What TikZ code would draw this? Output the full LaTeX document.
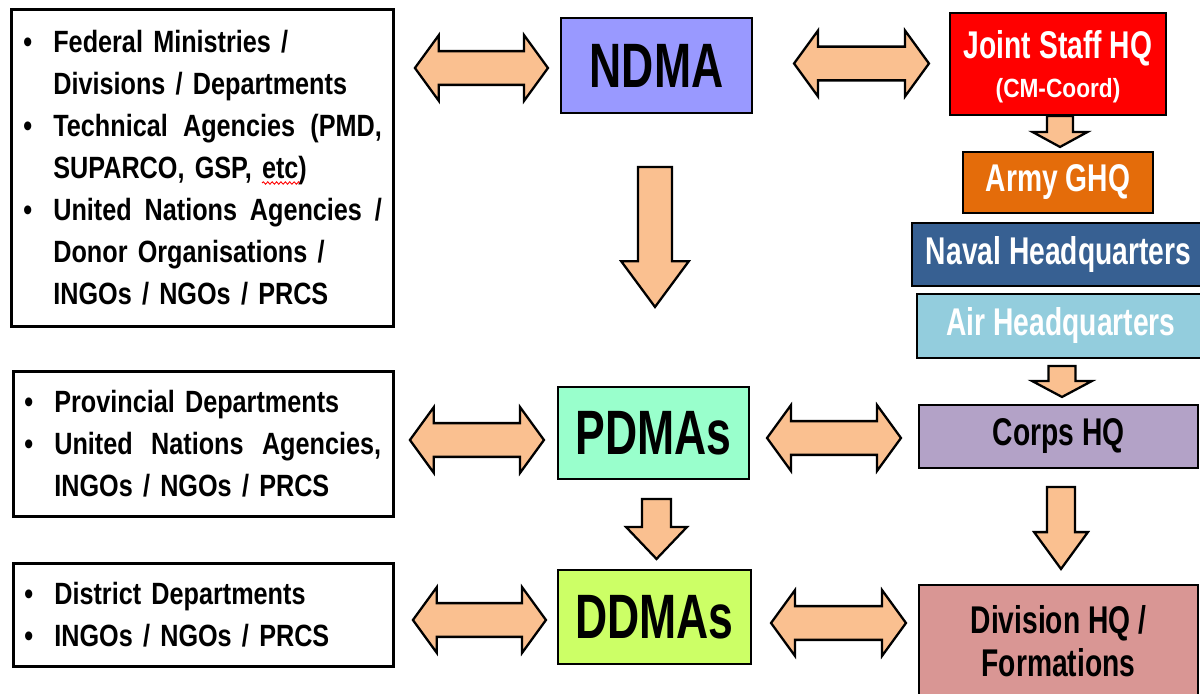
\documentclass[tikz,border=0pt]{standalone}
\usepackage{fontspec}
\setmainfont{Liberation Sans}
\newfontfamily\lfont{Liberation Sans}[FakeStretch=0.82]
\newfontfamily\rfont{Liberation Sans}[FakeStretch=0.73]
\newfontfamily\tfont{Liberation Sans}[FakeStretch=0.71]
\newfontfamily\cfont{Liberation Sans}[FakeStretch=0.86]
\usetikzlibrary{calc,decorations.pathmorphing}
\definecolor{arrowfill}{HTML}{FAC090}
\definecolor{ndmac}{HTML}{9999FF}
\definecolor{pdmac}{HTML}{99FFCC}
\definecolor{ddmac}{HTML}{CCFF66}
\definecolor{jointc}{HTML}{FF0000}
\definecolor{armyc}{HTML}{E46C0A}
\definecolor{navalc}{HTML}{376092}
\definecolor{airc}{HTML}{93CDDD}
\definecolor{corpsc}{HTML}{B3A2C7}
\definecolor{divc}{HTML}{D99694}
\tikzset{
  lbox/.style={draw=black, line width=1.7pt, fill=white, anchor=north west,
    inner ysep=0pt, align=left,
    font=\lfont\bfseries\fontsize{17.5}{23.9}\selectfont},
  cbox/.style={draw=black, line width=1.2pt, inner sep=0pt, align=center},
  titletext/.style={font=\tfont\bfseries\fontsize{35.7}{40}\selectfont},
  rtext/.style={font=\rfont\bfseries\fontsize{22}{24.4}\selectfont},
  blockarrow/.style={draw=black, fill=arrowfill, line width=1.3pt, line join=miter},
}
\newcommand\blt{\makebox[19.84pt][l]{\hspace{2.8pt}\textbullet}}
\newcommand\ind{\hspace*{19.84pt}}
\newcommand\just[1]{\makebox[187pt][s]{#1}}
\newcommand\hdarrow[2]{\path[blockarrow] let \p1=(#1), \p2=(#2) in
  (\x1,\y1) -- (\x1+13.6pt,\y1+18.7pt) -- (\x1+13.6pt,\y1+9.6pt) --
  (\x2-13.6pt,\y1+9.6pt) -- (\x2-13.6pt,\y1+18.7pt) -- (\x2,\y1) --
  (\x2-13.6pt,\y1-18.7pt) -- (\x2-13.6pt,\y1-9.6pt) --
  (\x1+13.6pt,\y1-9.6pt) -- (\x1+13.6pt,\y1-18.7pt) -- cycle;}
\newcommand\vdarrow[5]{\path[blockarrow] let \p1=(#1), \p2=(#2) in
  (\x1-#3*0.5669pt,\y1) -- (\x1+#3*0.5669pt,\y1) --
  (\x1+#3*0.5669pt,\y2+#5*0.5669pt) -- (\x1+#4*0.5669pt,\y2+#5*0.5669pt) --
  (\x1,\y2) -- (\x1-#4*0.5669pt,\y2+#5*0.5669pt) --
  (\x1-#3*0.5669pt,\y2+#5*0.5669pt) -- cycle;}
\begin{document}
\begin{tikzpicture}[x=0.02cm,y=-0.02cm]
\useasboundingbox (0,0) rectangle (1200,693);
\clip (0,0) rectangle (1200,693);
\fill[white] (0,0) rectangle (1200,693);

% left boxes
\node[lbox, inner xsep=0.14cm, text width=7.36cm, minimum height=6.34cm] (l1) at (10,8) {%
\blt Federal Ministries /\\
\ind Divisions / Departments\\
\blt \just{Technical\hfill Agencies\hfill (PMD,}\\
\ind SUPARCO, GSP, etc)\\
\blt \just{United\hfill Nations\hfill Agencies\hfill /}\\
\ind Donor Organisations /\\
\ind INGOs / NGOs / PRCS};
\node[lbox, inner xsep=0.12cm, text width=7.36cm, minimum height=2.9cm] (l2) at (12,370) {%
\blt Provincial Departments\\
\blt \makebox[186pt][s]{United\hfill Nations\hfill Agencies,}\\
\ind INGOs / NGOs / PRCS};
\node[lbox, inner xsep=0.12cm, text width=7.36cm, minimum height=2.06cm] (l3) at (12,562) {%
\blt District Departments\\
\blt INGOs / NGOs / PRCS};
\draw[red, line width=0.5pt, decorate, decoration={snake, amplitude=0.7pt, segment length=2.5pt}] (262,183) -- (300,183);

% centre column
\node[cbox, fill=ndmac, titletext, minimum width=3.82cm, minimum height=1.9cm] (ndma) at (656.5,65.5) {NDMA};
\node[cbox, fill=pdmac, titletext, minimum width=3.82cm, minimum height=1.84cm] (pdma) at (653.5,433) {PDMAs};
\node[cbox, fill=ddmac, titletext, minimum width=3.86cm, minimum height=1.88cm] (ddma) at (654.5,617) {DDMAs};

% right column
\node[cbox, fill=jointc, rtext, text=white, minimum width=4.32cm, minimum height=2.04cm] (joint) at (1058,64)
  {\rule{0pt}{19.5pt}Joint Staff HQ\\[-2.3pt]{\cfont\bfseries\fontsize{15}{18}\selectfont (CM-Coord)}};
\node[cbox, fill=armyc, rtext, text=white, minimum width=3.8cm, minimum height=1.22cm] (army) at (1058,182.5) {Army GHQ};
\node[cbox, fill=navalc, rtext, text=white, minimum width=5.86cm, minimum height=1.26cm] (naval) at (1058.5,254.5) {Naval Headquarters};
\node[cbox, fill=airc, rtext, text=white, minimum width=5.76cm, minimum height=1.28cm] (air) at (1061,326) {Air Headquarters};
\node[cbox, fill=corpsc, rtext, minimum width=5.58cm, minimum height=1.26cm] (corps) at (1058.5,436.5) {Corps HQ};
\node[cbox, fill=divc, rtext, minimum width=5.58cm, minimum height=2.26cm] (div) at (1058.5,641.5) {Division HQ /\\Formations};

% horizontal double arrows
\hdarrow{$(l1.east |- ndma.west)+(20,2.5)$}{$(ndma.west)+(-12,2.5)$}
\hdarrow{$(ndma.east)+(41,-2)$}{$(joint.west |- ndma.east)+(-20,-2)$}
\hdarrow{$(l2.east |- pdma.west)+(15,7)$}{$(pdma.west)+(-13,7)$}
\hdarrow{$(pdma.east)+(17,5)$}{$(corps.west |- pdma.east)+(-17,5)$}
\hdarrow{$(l3.east |- ddma.west)+(18,3)$}{$(ddma.west)+(-11,3)$}
\hdarrow{$(ddma.east)+(19,6)$}{$(div.west |- ddma.east)+(-12,6)$}

% vertical arrows
\vdarrow{$(ndma.south)+(-1.5,53)$}{$(pdma.north)+(1.5,-79)$}{17}{34}{46}
\vdarrow{$(pdma.south)+(3,19)$}{$(ddma.north)+(2,-10)$}{14.5}{30.5}{32}
\vdarrow{$(joint.south)+(2,0)$}{$(army.north)+(2,-4)$}{13}{27.5}{15}
\vdarrow{$(air.south)+(1,7)$}{$(corps.north)+(3,-7)$}{13.5}{30}{16}
\vdarrow{$(corps.south)+(2.5,18)$}{$(div.north)+(2.5,-15)$}{14}{27}{37}
\end{tikzpicture}
\end{document}
